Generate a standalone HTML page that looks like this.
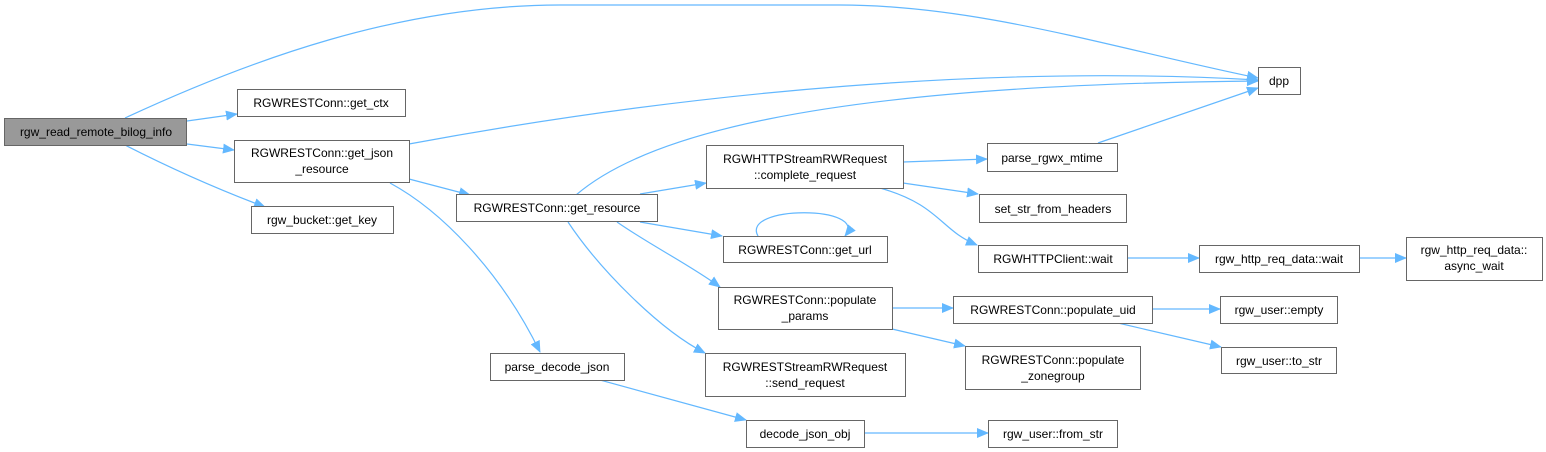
<!DOCTYPE html>
<html><head><meta charset="utf-8"><style>
html,body{margin:0;padding:0;background:#fff;}
svg{display:block;}
text{font-family:"Liberation Sans",sans-serif;font-size:12px;fill:#000;}
.b{fill:#fff;stroke:#666;stroke-width:1;}
.e{fill:none;stroke:#63b8ff;stroke-width:1.2;}
</style></head><body>
<svg width="1546" height="452" viewBox="0 0 1546 452" xmlns="http://www.w3.org/2000/svg">
<defs><marker id="a" markerWidth="12" markerHeight="10" refX="11" refY="5" orient="auto" markerUnits="userSpaceOnUse"><path d="M0,0 L12,5 L0,10 z" fill="#63b8ff"/></marker></defs>
<g marker-end="url(#a)">
<path class="e" d="M125,118 C250,60 400,5 560,5 L840,5 C980,5 1120,50 1258,78"/>
<path class="e" d="M187,121 L237,114"/>
<path class="e" d="M187,144 L234,150"/>
<path class="e" d="M125,145 C170,168 220,190 265,207"/>
<path class="e" d="M409,144 C700,90 1000,65 1258,80"/>
<path class="e" d="M409,179 L470,195"/>
<path class="e" d="M390,183 C440,210 500,270 540,352"/>
<path class="e" d="M576,195 C640,140 800,85 1258,81"/>
<path class="e" d="M640,194 L706,183"/>
<path class="e" d="M640,222 L722,236"/>
<path class="e" d="M617,222 C650,245 690,265 720,287"/>
<path class="e" d="M568,222 C600,270 660,330 705,353"/>
<path class="e" d="M758,236 C740,205 870,205 845,236"/>
<path class="e" d="M903,162 L987,159"/>
<path class="e" d="M903,183 L978,194"/>
<path class="e" d="M880,188 C940,205 940,230 977,245"/>
<path class="e" d="M1098,143 L1258,88"/>
<path class="e" d="M1127,258 L1199,258"/>
<path class="e" d="M1359,258 L1406,258"/>
<path class="e" d="M892,308 L953,308"/>
<path class="e" d="M892,329 L965,346"/>
<path class="e" d="M1152,309 L1220,309"/>
<path class="e" d="M1118,323 L1221,347"/>
<path class="e" d="M600,380 L746,420"/>
<path class="e" d="M864,433 L988,433"/>
</g>
<rect x="4.5" y="118.5" width="182" height="27" fill="#999" stroke="#666"/>
<text x="96" y="136" text-anchor="middle">rgw_read_remote_bilog_info</text>
<rect class="b" x="237.5" y="89.5" width="168" height="27"/><text x="321" y="107" text-anchor="middle">RGWRESTConn::get_ctx</text>
<rect class="b" x="234.5" y="140.5" width="175" height="42"/><text x="322" y="157" text-anchor="middle">RGWRESTConn::get_json</text><text x="322" y="173" text-anchor="middle">_resource</text>
<rect class="b" x="251.5" y="206.5" width="142" height="27"/><text x="322" y="224" text-anchor="middle">rgw_bucket::get_key</text>
<rect class="b" x="456.5" y="194.5" width="201" height="27"/><text x="557" y="212" text-anchor="middle">RGWRESTConn::get_resource</text>
<rect class="b" x="490.5" y="353.5" width="134" height="27"/><text x="557" y="371" text-anchor="middle">parse_decode_json</text>
<rect class="b" x="1258.5" y="67.5" width="42" height="27"/><text x="1279" y="85" text-anchor="middle">dpp</text>
<rect class="b" x="706.5" y="145.5" width="197" height="43"/><text x="805" y="163" text-anchor="middle">RGWHTTPStreamRWRequest</text><text x="805" y="179" text-anchor="middle">::complete_request</text>
<rect class="b" x="987.5" y="143.5" width="130" height="28"/><text x="1052" y="162" text-anchor="middle">parse_rgwx_mtime</text>
<rect class="b" x="979.5" y="194.5" width="147" height="28"/><text x="1053" y="213" text-anchor="middle">set_str_from_headers</text>
<rect class="b" x="723.5" y="236.5" width="164" height="26"/><text x="805" y="254" text-anchor="middle">RGWRESTConn::get_url</text>
<rect class="b" x="978.5" y="245.5" width="149" height="27"/><text x="1053" y="263" text-anchor="middle">RGWHTTPClient::wait</text>
<rect class="b" x="1199.5" y="245.5" width="160" height="27"/><text x="1279" y="263" text-anchor="middle">rgw_http_req_data::wait</text>
<rect class="b" x="1406.5" y="237.5" width="136" height="43"/><text x="1474" y="254" text-anchor="middle">rgw_http_req_data::</text><text x="1474" y="270" text-anchor="middle">async_wait</text>
<rect class="b" x="718.5" y="287.5" width="174" height="42"/><text x="805" y="304" text-anchor="middle">RGWRESTConn::populate</text><text x="805" y="320" text-anchor="middle">_params</text>
<rect class="b" x="953.5" y="296.5" width="199" height="27"/><text x="1053" y="314" text-anchor="middle">RGWRESTConn::populate_uid</text>
<rect class="b" x="1220.5" y="296.5" width="117" height="27"/><text x="1279" y="314" text-anchor="middle">rgw_user::empty</text>
<rect class="b" x="965.5" y="346.5" width="175" height="43"/><text x="1053" y="364" text-anchor="middle">RGWRESTConn::populate</text><text x="1053" y="380" text-anchor="middle">_zonegroup</text>
<rect class="b" x="1221.5" y="347.5" width="115" height="26"/><text x="1279" y="365" text-anchor="middle">rgw_user::to_str</text>
<rect class="b" x="705.5" y="353.5" width="200" height="43"/><text x="805" y="371" text-anchor="middle">RGWRESTStreamRWRequest</text><text x="805" y="387" text-anchor="middle">::send_request</text>
<rect class="b" x="746.5" y="420.5" width="118" height="27"/><text x="805" y="438" text-anchor="middle">decode_json_obj</text>
<rect class="b" x="988.5" y="420.5" width="129" height="27"/><text x="1053" y="438" text-anchor="middle">rgw_user::from_str</text>
</svg>
</body></html>
